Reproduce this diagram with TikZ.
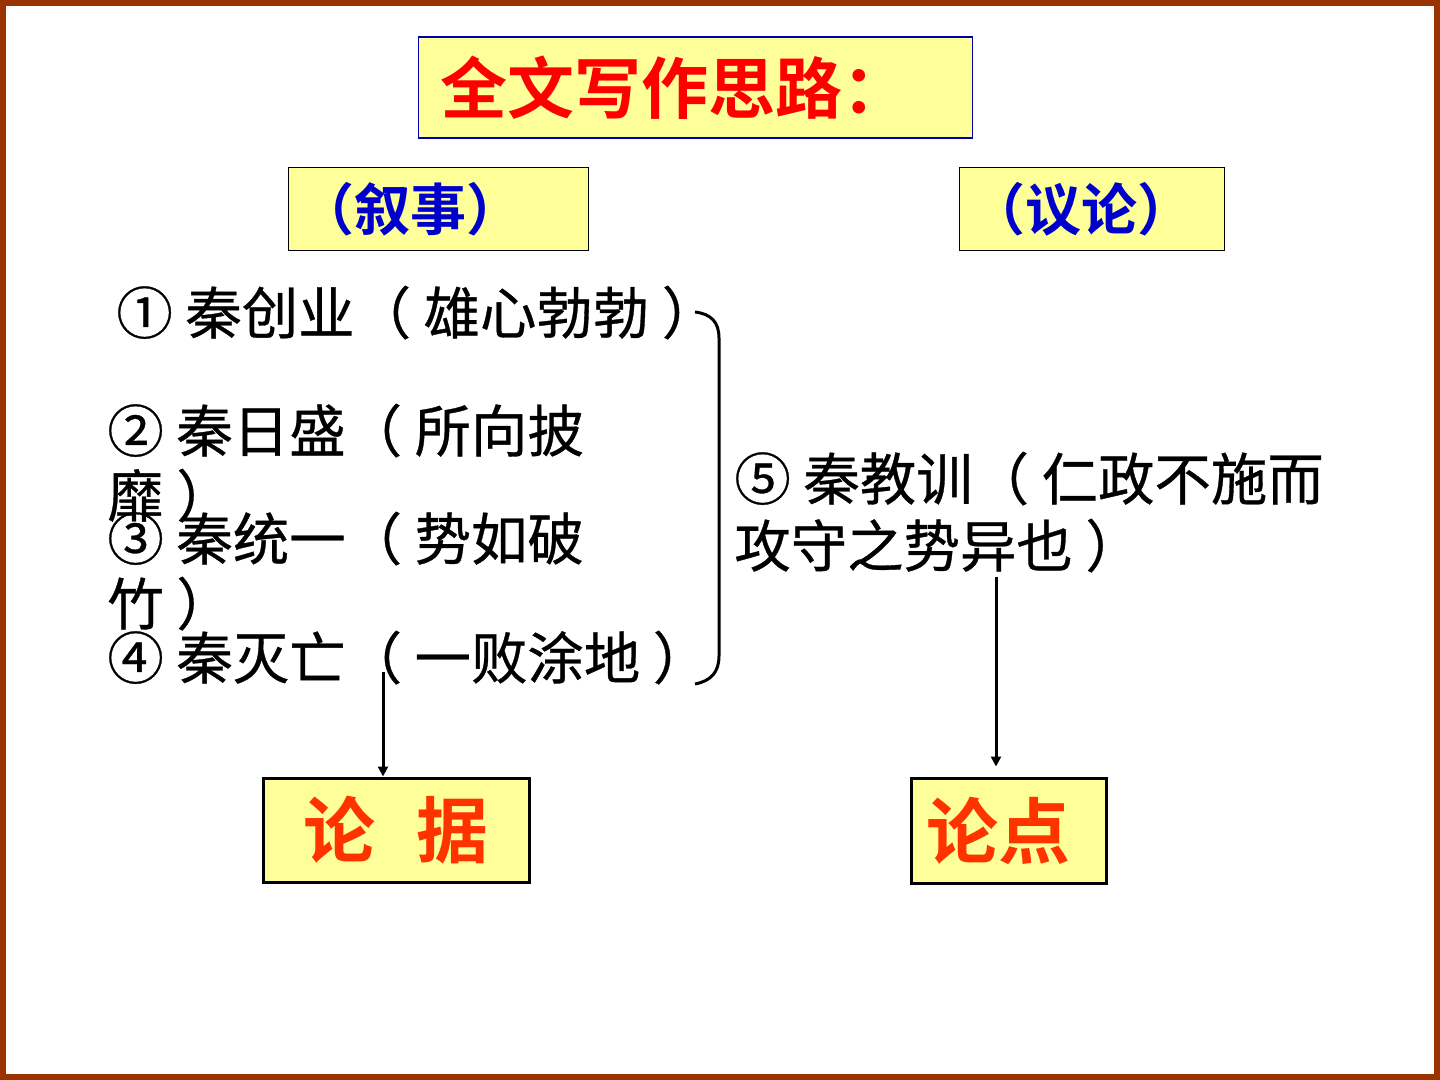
\documentclass[tikz,border=0pt]{standalone}
\usepackage{fontspec}
\newfontfamily\cjk[BoldFont={Noto Sans CJK SC Bold}]{Noto Sans CJK SC}
\newfontfamily\cjkitem[FakeBold=0.6]{Noto Sans CJK SC}
\usetikzlibrary{arrows.meta}
\definecolor{frame}{HTML}{993300}
\definecolor{paleyellow}{HTML}{FFFF99}
\definecolor{titlered}{HTML}{FF0000}
\definecolor{headblue}{HTML}{0000CC}
\definecolor{keyred}{HTML}{FF3300}
\tikzset{
  item/.style={anchor=base west, inner sep=0pt, font=\cjkitem\fontsize{28.2pt}{30pt}\selectfont, text=black},
  headbox/.style={draw=black, line width=0.5pt, fill=paleyellow, inner ysep=0pt, align=left,
     font=\cjk\bfseries\fontsize{28pt}{30pt}\selectfont, text=headblue},
  keybox/.style={draw=black, line width=1.5pt, fill=paleyellow, inner sep=0pt,
     font=\cjk\bfseries\fontsize{36pt}{40pt}\selectfont, text=keyred},
  conn/.style={line width=1.5pt, -{Triangle[length=5pt,width=5pt]}}
}
\begin{document}
\begin{tikzpicture}[x=0.5pt,y=-0.5pt]
\useasboundingbox (0,0) rectangle (1440,1080);
\fill[white] (0,0) rectangle (1440,1080);
\draw[frame, line width=3pt] (3,3) rectangle (1437,1077);

% title
\node[draw=blue!70!black, line width=0.75pt, fill=paleyellow, minimum width=276.5pt, minimum height=50.5pt,
      text width=255pt, inner xsep=11pt, align=left, text=titlered,
      font=\cjk\bfseries\fontsize{33.5pt}{36pt}\selectfont] (title) at (695.5,87.5) {全文写作思路：};

% headers
\node[headbox, minimum width=150pt, minimum height=41.5pt, text width=140pt, inner xsep=5pt] (narr) at (438,209.5) {（叙事）};
\node[headbox, minimum width=132.5pt, minimum height=41.5pt, text width=122.5pt, inner xsep=5pt] (argu) at (1091.5,209.5) {（议论）};

% items
\node[item] (t1) at (116,334) {① 秦创业（ 雄心勃勃 ）};
\node[item] (t2) at (107,452) {② 秦日盛（ 所向披};
\node[item] (t2b) at (107,517) {靡 ）};
\node[item] (t3) at (107,560) {③ 秦统一（ 势如破};
\node[item] (t3b) at (107,625) {竹 ）};
\node[item] (t4) at (107,679) {④ 秦灭亡（ 一败涂地 ）};
\node[item] (t5) at (734,500) {⑤ 秦教训（ 仁政不施而};
\node[item] (t5b) at (734,567) {攻守之势异也 ）};

% bracket
\draw[line width=1.5pt] (695,312) .. controls (711,314) and (719,322) .. (719,338)
   -- (719,656) .. controls (719,672) and (711,681) .. (695,684);

% key boxes
\node[keybox, minimum width=133pt, minimum height=52pt] (lunju) at (396,830) {论\hspace{21pt}据};
\node[keybox, minimum width=97.5pt, minimum height=52.5pt] (lundian) at (1008.5,830.5) {\hspace{-10pt}论点};

% connectors
\coordinate (a1) at (383,672);
\coordinate (a2) at (996,577);
\draw[conn] (a1) -- (a1 |- lunju.north);
\draw[conn, shorten >=5pt] (a2) -- (a2 |- lundian.north);
\end{tikzpicture}
\end{document}
